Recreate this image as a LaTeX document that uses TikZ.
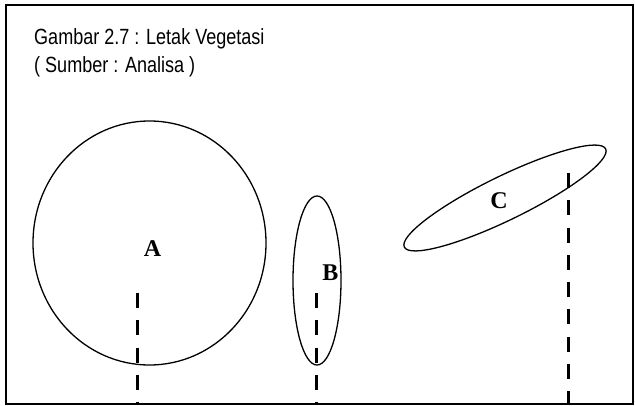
\documentclass[tikz,border=0pt]{standalone}
\usepackage{fontspec}
\setmainfont{Liberation Sans}
\newfontfamily\titlefont[FakeStretch=0.82]{Liberation Sans}
\newfontfamily\lblfont{Liberation Serif}
\begin{document}
\begin{tikzpicture}[x=1pt,y=-1pt,
  frame/.style={draw=black,line width=1.6pt},
  zone/.style={draw=black,line width=1.3pt},
  marker/.style={draw=black,line width=3pt,dash pattern=on 15pt off 12.3pt},
  title/.style={anchor=base west,inner sep=0pt,font=\titlefont\fontsize{22}{23}\selectfont},
  letter/.style={inner sep=0pt,font=\lblfont\bfseries\fontsize{24}{24}\selectfont}]
\useasboundingbox (0,0) rectangle (635,406);
\fill[white] (0,0) rectangle (635,406);
\draw[frame] (6,5) rectangle (633,404);
\node[title] (t1) at (34,45) {Gambar 2.7 : Letak Vegetasi};
\node[title] (t2) at (34,73) {( Sumber : Analisa )};
% ellipses
\draw[zone] (149.5,243) ellipse [x radius=116.5, y radius=122];
\draw[zone] (317,280.5) ellipse [x radius=24, y radius=84.5];
\draw[zone,rotate around={26:(505,198)}] (505,198) ellipse [x radius=112, y radius=22];
% labels
\node[letter] (la) at (152.5,249) {A};
\node[letter] (lb) at (330.5,272.5) {B};
\node[letter] (lc) at (499,201) {C};
% dashed markers
\coordinate (a1) at (137.5,293);
\coordinate (a2) at (137.5,404);
\coordinate (b1) at (316.5,293);
\coordinate (b2) at (316.5,404);
\coordinate (c1) at (568,173);
\coordinate (c2) at (568,404);
\draw[marker] (a1) -- (a2);
\draw[marker] (b1) -- (b2);
\draw[marker] (c1) -- (c2);
\end{tikzpicture}
\end{document}
